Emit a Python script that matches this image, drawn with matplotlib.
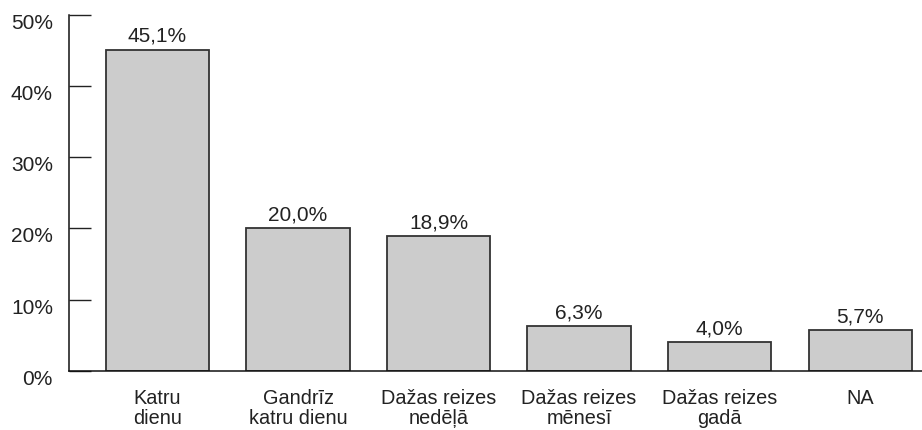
import matplotlib
matplotlib.use("Agg")
import matplotlib.pyplot as plt
import matplotlib.transforms as mtransforms

categories = ["Katru\ndienu", "Gandrīz\nkatru dienu", "Dažas reizes\nnedēļā",
              "Dažas reizes\nmēnesī", "Dažas reizes\ngadā", "NA"]
values = [45.1, 20.0, 18.9, 6.3, 4.0, 5.7]
yticks = [0, 10, 20, 30, 40, 50]

plt.rcParams.update({"font.family": ["Liberation Sans", "DejaVu Sans"], "font.size": 15})
fig = plt.figure(figsize=(9.22, 4.31), dpi=100)
ax = fig.add_axes([0.0748, 0.137, 0.9252, 0.8266])

x = list(range(len(values)))
bars = ax.bar(x, values, width=0.735, color="#cccccc", edgecolor="#333333", linewidth=1.3)
for xi, v in zip(x, values):
    ax.annotate(f"{v:.1f}%".replace(".", ","), (xi, v), xytext=(0, 3.5),
                textcoords="offset points", ha="center", va="bottom", fontsize=15, color="#222222")

ax.set_xlim(-0.63, 5.44)
ax.set_ylim(0, 50)
ax.set_yticks(yticks)
ax.set_yticklabels([f"{t}%" for t in yticks])
ax.set_xticks(x)
ax.set_xticklabels(categories, linespacing=1.1)

ax.tick_params(axis="y", direction="in", length=16, width=1, pad=11.5, labelsize=15, colors="#222222")
ax.tick_params(axis="x", length=0, pad=12, labelsize=14.3, colors="#222222")
for sp in ("top", "right"):
    ax.spines[sp].set_visible(False)
for sp in ("left", "bottom"):
    ax.spines[sp].set_linewidth(1.1)
    ax.spines[sp].set_color("#111111")

# y labels sit a little below their ticks
shift = mtransforms.ScaledTranslation(0, -5.5 / 100, fig.dpi_scale_trans)
for lab in ax.get_yticklabels():
    lab.set_transform(lab.get_transform() + shift)

fig.savefig("out.png", dpi=100)
